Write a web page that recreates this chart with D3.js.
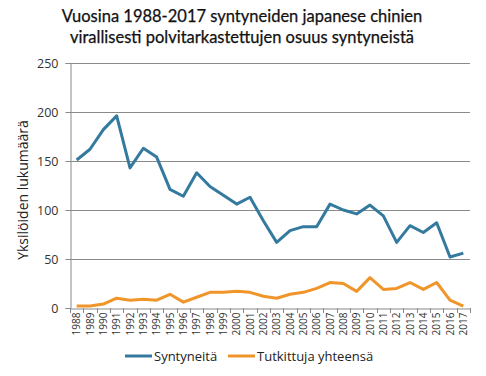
<!DOCTYPE html>
<html><head><meta charset="utf-8">
<script src="https://cdn.jsdelivr.net/npm/d3@7"></script>
<style>body{margin:0;background:#fff;} svg{display:block;}</style>
</head><body>
<svg id="c" width="486" height="376"></svg>
<script>
const years = d3.range(1988, 2018).map(String);
const syntyneita = [151,162,182,196,143,163,154,121,114,138,124,115,106,113,89,67,79,83,83,106,100,96,105,94,67,84,77,87,52,56];
const tutkittuja = [2,2,4,10,8,9,8,14,6,11,16,16,17,16,12,10,14,16,20,26,25,17,31,19,20,26,19,26,8,2];
const yTicks = [0,50,100,150,200,250];
const seriesNames = ["Syntyneitä","Tutkittuja yhteensä"];
const colors = ["#347a9e","#f0952a"];
const titleLines = ["Vuosina 1988-2017 syntyneiden japanese chinien","virallisesti polvitarkastettujen osuus syntyneistä"];
const yTitle = "Yksilöiden lukumäärä";

(function(){
const svg = d3.select("#c");
const font = "'Open Sans', 'Liberation Sans', sans-serif";
const mL = 70, mR = 470, mT = 63, mB = 308;
const x = d3.scaleBand().domain(years).range([mL, mR]);
const y = d3.scaleLinear().domain([0, 250]).range([mB, mT]);

svg.selectAll("text.title").data(titleLines).enter().append("text")
  .attr("x", 242).attr("y", (d,i)=>22+i*21)
  .attr("text-anchor","middle").attr("font-family","Lato, 'Open Sans', sans-serif")
  .attr("font-size", 16.5).attr("font-weight", 400).attr("fill","#111")
  .attr("stroke","#111").attr("stroke-width",0.25).text(d=>d);

svg.append("g").selectAll("line").data(yTicks.filter(d=>d>0)).enter().append("line")
  .attr("x1", mL).attr("x2", mR).attr("y1", d=>y(d)+0.5).attr("y2", d=>y(d)+0.5)
  .attr("stroke","#8a8a8a").attr("stroke-width",1);

const ya = svg.append("g").attr("transform",`translate(${mL+0.5},0)`)
  .call(d3.axisLeft(y).tickValues(yTicks).tickSize(5).tickPadding(7));
ya.select(".domain").attr("stroke","#8a8a8a");
ya.selectAll(".tick line").attr("stroke","#8a8a8a");
ya.selectAll("text").attr("font-family",font).attr("font-size",12.5).attr("fill","#333");

const xa = svg.append("g").attr("transform",`translate(0,${mB+0.5})`)
  .call(d3.axisBottom(x).tickSize(0).tickPadding(0));
xa.select(".domain").attr("stroke","#8a8a8a");
xa.selectAll(".tick text").attr("font-family",font).attr("font-size",10).attr("fill","#333")
  .attr("transform","rotate(-90)").attr("text-anchor","end").attr("dx","-4").attr("dy","0.35em").attr("y",0).attr("x",0);
const bounds = years.map(d=>x(d)).concat([mR]);
svg.append("g").selectAll("line").data(bounds).enter().append("line")
  .attr("x1", d=>Math.round(d)+0.5).attr("x2", d=>Math.round(d)+0.5)
  .attr("y1", mB).attr("y2", mB+5).attr("stroke","#8a8a8a");

svg.append("text").attr("transform","translate(28,190) rotate(-90)")
  .attr("text-anchor","middle").attr("font-family",font).attr("font-size",14).attr("fill","#222").text(yTitle);

const line = d3.line().x((d,i)=>x(years[i])+x.bandwidth()/2).y(d=>y(d));
[syntyneita, tutkittuja].forEach((s,i)=>{
  svg.append("path").datum(s).attr("d", line).attr("fill","none")
    .attr("stroke", colors[i]).attr("stroke-width",3).attr("stroke-linejoin","round");
});

const legX = [125, 228];
seriesNames.forEach((n,i)=>{
  svg.append("line").attr("x1",legX[i]).attr("x2",legX[i]+27).attr("y1",356).attr("y2",356)
    .attr("stroke",colors[i]).attr("stroke-width",3);
  svg.append("text").attr("x",legX[i]+29).attr("y",360.5).attr("font-family",font)
    .attr("font-size",13).attr("fill","#222").text(n);
});
})();
</script>
</body></html>
